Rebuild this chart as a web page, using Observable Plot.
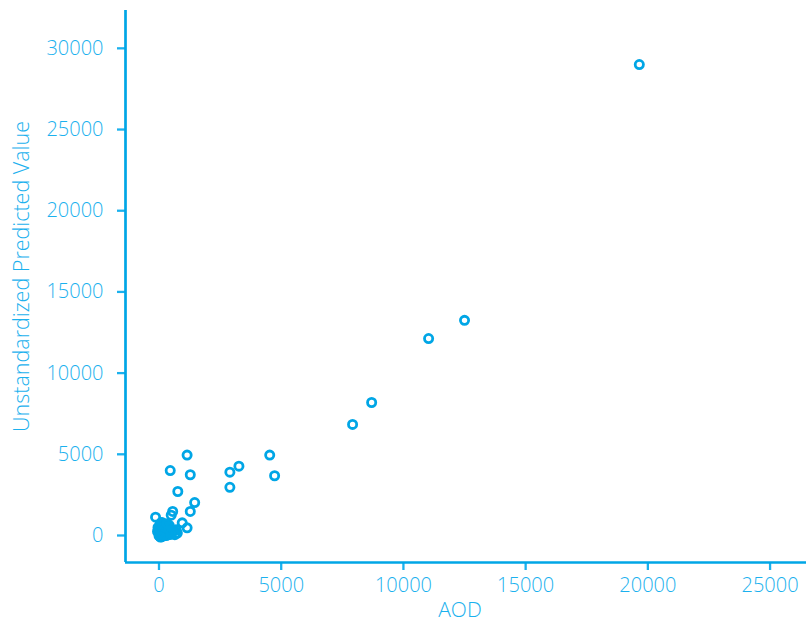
<!DOCTYPE html>
<html><head><meta charset="utf-8">
<script src="https://cdn.jsdelivr.net/npm/d3@7"></script>
<script src="https://cdn.jsdelivr.net/npm/@observablehq/plot@0.6"></script>
<style>body{margin:0;background:#fff}</style>
</head><body><div id="chart"></div>
<script>
// AOD (x) and Unstandardized Predicted Value (y)
const aod = [19650, 12500, 11030, 8700, 7920, 4530, 4730, 3270, 2900, 2900,
  1150, 1280, 460, 770, 1460, 1280, 560, 500, -140, 950, 1150, 600,
  0, 30, 60, 10, 90, 120, 150, 40, 200, 250, 80, 170, 300, 20, 110, 220, 350, 400,
  450, 60, 180, 280, 380, 500, 130, 320, 230, 420, 30, 550, 80, 750, 700, 650, -60, -40,
  100, 200, 300, 150, 250, 350, 450, 50, 120, 270, 380, 480, 180, 60, 330];
const predicted = [29000, 13250, 12130, 8190, 6840, 4950, 3680, 4270, 3900, 2970,
  4950, 3740, 4000, 2710, 2030, 1480, 1480, 1250, 1130, 780, 470, 330,
  0, -40, 20, 80, 60, 10, 120, 150, 90, 40, 220, 250, 180, 300, 350, 320, 280, 150,
  60, 450, 480, 420, 400, 350, 600, 560, 700, 620, 550, 200, 780, 150, 350, 50, 250, 500,
  -80, -20, 0, 380, 520, 100, 230, 680, 800, 650, 530, 120, 30, -100, 730];
const xTicks = [0, 5000, 10000, 15000, 20000, 25000];
const yTicks = [0, 5000, 10000, 15000, 20000, 25000, 30000];
const xLabel = "AOD";
const yLabel = "Unstandardized Predicted Value";

const data = aod.map((x, i) => ({x, y: predicted[i]}));
const textColor = "#1BB1EE";
const markColor = "#00A6E6";
const xDomain = [-1370, 26490];
const yDomain = [-1663, 32330];

const chart = Plot.plot({
  width: 806, height: 627,
  marginLeft: 125, marginRight: 0, marginTop: 10, marginBottom: 65,
  style: {fontFamily: "'Open Sans', Roboto, sans-serif", fontSize: "20px", fontWeight: 300, color: textColor, background: "#fff", strokeWidth: 2.3},
  x: {domain: xDomain, ticks: xTicks, tickSize: 8, tickPadding: 7, tickFormat: d => String(d), label: null},
  y: {domain: yDomain, ticks: yTicks, tickSize: 8, tickPadding: 14, tickFormat: d => String(d), label: null},
  marks: [
    Plot.ruleX([xDomain[0]], {stroke: markColor, strokeWidth: 2.7}),
    Plot.ruleY([yDomain[0]], {stroke: markColor, strokeWidth: 2.7}),
    Plot.dot(data, {x: "x", y: "y", r: 4.1, stroke: markColor, strokeWidth: 2.8, fill: "none"}),
    Plot.text([xLabel], {frameAnchor: "bottom", dy: 54, dx: -6, fill: textColor, fontSize: 21}),
    Plot.text([yLabel], {frameAnchor: "left", textAnchor: "middle", dx: -103, dy: -10, rotate: -90, fill: textColor, fontSize: 21.5})
  ]
});
document.getElementById("chart").appendChild(chart);
</script>
</body></html>
